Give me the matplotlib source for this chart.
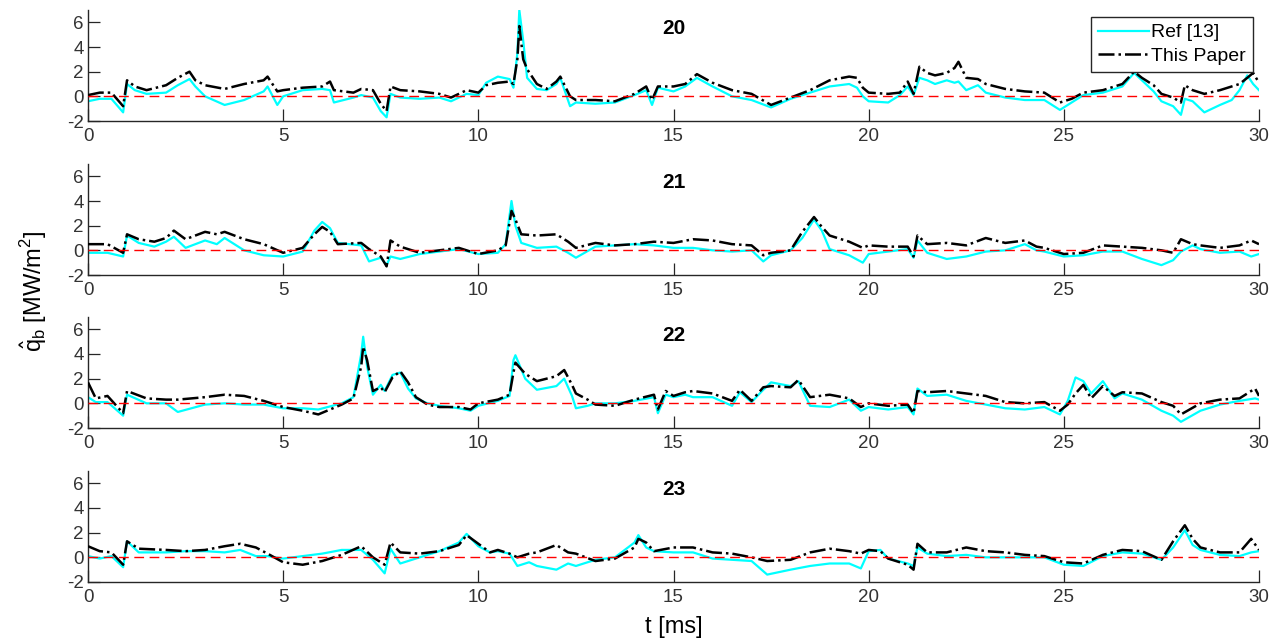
import matplotlib
matplotlib.use("Agg")
import matplotlib.pyplot as plt

plt.rcParams["font.family"] = ["Liberation Sans Narrow", "Liberation Sans", "DejaVu Sans"]
plt.rcParams["axes.unicode_minus"] = False

# ---- data (t in ms, q_b in MW/m^2) ----
t20 = [0, 0.3, 0.6, 0.9, 1.0, 1.2, 1.5, 2.0, 2.3, 2.6,
       2.75, 3.0, 3.5, 4.0, 4.5, 4.6, 4.85, 5.0, 5.5, 6.0,
       6.2, 6.3, 6.8, 7.0, 7.3, 7.5, 7.65, 7.75, 8.0, 8.5,
       9.0, 9.3, 9.7, 10.0, 10.2, 10.5, 10.8, 10.9, 11.0, 11.05,
       11.15, 11.25, 11.5, 11.75, 12.0, 12.1, 12.35, 12.5, 13.0, 13.5,
       14.0, 14.3, 14.45, 14.6, 15.0, 15.3, 15.6, 16.0, 16.5, 17.0,
       17.5, 18.0, 18.5, 19.0, 19.5, 19.7, 19.85, 20.0, 20.5, 20.8,
       21.0, 21.15, 21.3, 21.5, 21.7, 22.0, 22.2, 22.3, 22.5, 22.8,
       23.0, 23.5, 24.0, 24.5, 24.9, 25.2, 25.5, 26.0, 26.5, 26.8,
       27.0, 27.3, 27.5, 27.8, 28.0, 28.1, 28.3, 28.6, 29.0, 29.3,
       29.5, 29.7, 29.85, 30.0]
ref20 = [-0.4, -0.2, -0.2, -1.3, 1.0, 0.5, 0.2, 0.3, 0.9, 1.4,
         0.8, 0.0, -0.7, -0.3, 0.4, 0.8, -0.7, 0.0, 0.5, 0.6,
         0.5, -0.5, -0.1, 0.1, -0.1, -1.2, -1.7, 0.2, -0.1, -0.2,
         -0.1, -0.4, 0.2, 0.1, 1.1, 1.6, 1.4, 0.7, 3.5, 7.0,
         4.5, 1.5, 0.6, 0.5, 1.0, 1.5, -0.8, -0.5, -0.6, -0.5,
         0.1, 0.5, -0.7, 0.7, 0.4, 0.8, 1.5, 0.8, 0.0, -0.3,
         -0.9, -0.2, 0.3, 0.8, 1.0, 0.7, 0.0, -0.4, -0.5, 0.1,
         0.8, 0.1, 1.5, 1.3, 1.0, 1.3, 1.1, 1.2, 0.5, 0.9,
         0.3, -0.1, -0.3, -0.3, -1.1, -0.5, 0.1, 0.3, 0.8, 1.9,
         1.3, 0.4, -0.4, -0.8, -1.5, -0.2, -0.4, -1.3, -0.7, -0.3,
         0.5, 1.7, 1.0, 0.5]
paper20 = [0.1, 0.3, 0.3, -0.8, 1.3, 0.8, 0.5, 0.9, 1.5, 2.0,
           1.3, 0.9, 0.6, 1.0, 1.3, 1.6, 0.4, 0.5, 0.7, 0.8,
           1.2, 0.5, 0.3, 0.6, 0.5, -0.6, -1.2, 0.8, 0.5, 0.4,
           0.2, -0.1, 0.5, 0.3, 0.9, 1.1, 1.2, 1.0, 3.0, 5.7,
           3.0, 2.2, 1.0, 0.6, 1.2, 1.6, 0.0, -0.3, -0.3, -0.4,
           0.2, 0.8, -0.3, 0.8, 0.8, 1.0, 1.8, 1.1, 0.5, 0.2,
           -0.7, -0.1, 0.5, 1.3, 1.6, 1.5, 0.7, 0.3, 0.2, 0.3,
           1.2, 0.2, 2.4, 1.9, 1.7, 1.9, 2.3, 2.8, 1.5, 1.4,
           1.0, 0.6, 0.4, 0.3, -0.5, -0.2, 0.3, 0.5, 1.0, 2.0,
           1.5, 0.9, 0.2, -0.1, -0.5, 0.9, 0.5, 0.2, 0.5, 0.8,
           1.0, 1.5, 1.9, 1.1]

t21 = [0, 0.5, 0.9, 1.0, 1.3, 1.7, 2.0, 2.2, 2.5, 3.0,
       3.3, 3.5, 4.0, 4.5, 5.0, 5.5, 5.8, 6.0, 6.2, 6.4,
       7.0, 7.2, 7.5, 7.65, 7.75, 8.0, 8.5, 9.0, 9.5, 10.0,
       10.5, 10.7, 10.85, 10.95, 11.1, 11.5, 12.0, 12.3, 12.5, 13.0,
       13.5, 14.0, 14.5, 15.0, 15.5, 16.0, 16.5, 17.0, 17.3, 17.5,
       18.0, 18.3, 18.6, 18.8, 19.0, 19.5, 19.85, 20.0, 20.5, 21.0,
       21.15, 21.25, 21.5, 22.0, 22.5, 23.0, 23.5, 24.0, 24.3, 24.5,
       25.0, 25.5, 26.0, 26.5, 27.0, 27.5, 27.8, 28.0, 28.3, 28.5,
       29.0, 29.5, 29.8, 30.0]
ref21 = [-0.2, -0.2, -0.5, 1.2, 0.6, 0.3, 0.7, 1.1, 0.2, 0.8,
         0.5, 1.0, 0.0, -0.4, -0.5, -0.1, 1.6, 2.3, 1.8, 0.6,
         0.4, -0.9, -0.6, -1.2, -0.5, -0.7, -0.3, -0.1, 0.1, -0.3,
         -0.2, 0.5, 4.0, 2.0, 0.6, 0.2, 0.3, -0.2, -0.6, 0.3,
         0.4, 0.5, 0.4, 0.2, 0.2, 0.0, -0.1, 0.0, -0.9, -0.4,
         0.0, 1.0, 2.5, 1.6, 0.1, -0.4, -1.0, -0.3, -0.1, 0.1,
         -0.6, 0.8, -0.2, -0.7, -0.5, -0.1, 0.0, 0.5, 0.0, -0.1,
         -0.5, -0.4, -0.1, -0.1, -0.7, -1.2, -0.8, -0.1, 0.4, 0.1,
         -0.2, -0.1, -0.5, -0.3]
paper21 = [0.5, 0.5, -0.2, 1.3, 0.9, 0.7, 1.0, 1.6, 0.9, 1.5,
           1.3, 1.5, 0.9, 0.5, -0.2, 0.2, 1.3, 1.9, 1.5, 0.5,
           0.6, 0.1, -0.5, -1.3, 0.8, 0.3, -0.2, 0.0, 0.2, -0.3,
           0.0, 0.4, 3.2, 2.5, 1.3, 1.2, 1.3, 0.7, 0.2, 0.6,
           0.4, 0.5, 0.7, 0.6, 0.9, 0.8, 0.5, 0.4, -0.4, -0.2,
           0.0, 1.5, 2.7, 1.9, 1.2, 0.7, 0.2, 0.4, 0.3, 0.3,
           -0.5, 1.2, 0.5, 0.6, 0.4, 1.0, 0.6, 0.8, 0.3, 0.2,
           -0.3, -0.2, 0.4, 0.3, 0.2, 0.0, -0.2, 0.9, 0.5, 0.4,
           0.2, 0.4, 0.8, 0.5]

t22 = [0, 0.2, 0.5, 0.9, 1.0, 1.5, 2.0, 2.3, 3.0, 3.5,
       4.0, 4.5, 5.0, 5.5, 5.9, 6.5, 6.8, 7.0, 7.05, 7.15,
       7.3, 7.5, 7.6, 7.8, 8.0, 8.2, 8.4, 8.7, 9.0, 9.5,
       9.8, 10.0, 10.5, 10.8, 10.9, 10.95, 11.2, 11.5, 12.0, 12.2,
       12.4, 12.5, 12.8, 13.0, 13.5, 14.0, 14.5, 14.6, 14.8, 15.0,
       15.3, 15.5, 16.0, 16.5, 16.7, 17.0, 17.3, 17.5, 18.0, 18.2,
       18.5, 19.0, 19.5, 19.8, 20.0, 20.5, 21.0, 21.15, 21.25, 21.5,
       22.0, 22.5, 23.0, 23.5, 24.0, 24.5, 24.9, 25.1, 25.3, 25.5,
       25.7, 26.0, 26.3, 26.5, 27.0, 27.5, 27.8, 28.0, 28.5, 29.0,
       29.5, 29.9, 30.0]
ref22 = [0.5, 0.1, 0.1, -1.0, 0.7, 0.0, 0.0, -0.7, -0.1, 0.0,
         -0.1, -0.1, -0.4, -0.4, -0.5, 0.0, 0.5, 4.0, 5.4, 3.0,
         0.7, 1.5, 1.0, 2.3, 2.5, 1.2, 0.4, 0.0, -0.2, -0.4,
         -0.6, -0.2, 0.2, 0.6, 3.5, 3.9, 2.0, 1.1, 1.4, 2.0,
         0.6, -0.4, -0.2, 0.0, 0.0, 0.2, 0.5, -0.8, 0.7, 0.5,
         0.7, 0.5, 0.5, -0.2, 0.9, 0.1, 1.1, 1.7, 1.4, 1.8,
         -0.2, -0.3, 0.3, -0.6, -0.3, -0.5, -0.3, -0.9, 1.2, 0.6,
         0.7, 0.2, -0.1, -0.4, -0.5, -0.3, -0.9, 0.2, 2.1, 1.8,
         0.8, 1.8, 0.4, 0.8, 0.3, -0.6, -1.0, -1.5, -0.6, -0.1,
         0.2, 0.4, 0.3]
paper22 = [1.7, 0.4, 0.6, -0.8, 1.0, 0.4, 0.3, 0.3, 0.5, 0.7,
           0.6, 0.2, -0.3, -0.6, -0.9, -0.1, 0.4, 3.0, 4.6, 3.5,
           1.0, 1.3, 0.9, 2.1, 2.6, 1.7, 0.5, -0.1, -0.3, -0.3,
           -0.5, 0.0, 0.3, 0.7, 2.5, 3.3, 2.4, 1.8, 2.2, 2.7,
           1.5, 0.8, 0.3, -0.1, -0.2, 0.3, 0.7, -0.5, 1.0, 0.6,
           0.9, 1.0, 0.8, 0.2, 1.1, 0.2, 1.3, 1.4, 1.3, 1.9,
           0.5, 0.7, 0.4, -0.3, 0.0, -0.2, -0.1, -0.8, 1.0, 0.9,
           1.0, 0.8, 0.6, 0.1, 0.0, 0.1, -0.6, -0.1, 0.8, 1.5,
           0.4, 1.4, 0.6, 0.9, 0.8, 0.1, -0.2, -0.9, 0.0, 0.3,
           0.4, 1.2, 0.6]

t23 = [0, 0.3, 0.6, 0.9, 1.0, 1.3, 2.0, 2.5, 3.0, 3.5,
       3.9, 4.3, 4.6, 5.0, 5.5, 6.0, 6.5, 7.0, 7.3, 7.6,
       7.75, 8.0, 8.5, 9.0, 9.5, 9.7, 10.0, 10.3, 10.5, 10.8,
       11.0, 11.3, 11.5, 12.0, 12.3, 12.5, 13.0, 13.5, 14.0, 14.1,
       14.3, 14.5, 15.0, 15.5, 16.0, 16.5, 17.0, 17.4, 18.0, 18.5,
       19.0, 19.5, 19.8, 20.0, 20.3, 20.5, 21.0, 21.15, 21.25, 21.5,
       22.0, 22.5, 23.0, 23.5, 24.0, 24.5, 25.0, 25.5, 26.0, 26.5,
       27.0, 27.5, 27.8, 28.1, 28.3, 28.5, 29.0, 29.5, 29.8, 30.0]
ref23 = [0.1, -0.1, 0.1, -0.8, 1.3, 0.4, 0.4, 0.5, 0.5, 0.4,
         0.6, 0.1, 0.1, -0.1, 0.1, 0.3, 0.6, 0.6, -0.2, -1.3,
         0.7, -0.5, 0.0, 0.5, 1.2, 1.9, 0.9, 0.4, 0.5, 0.3,
         -0.7, -0.4, -0.7, -1.0, -0.5, -0.7, -0.2, 0.0, 1.2, 1.8,
         0.8, 0.5, 0.4, 0.4, -0.1, -0.2, -0.3, -1.4, -1.0, -0.7,
         -0.5, -0.5, -0.9, 0.5, 0.6, -0.1, -0.5, -0.7, 0.8, 0.3,
         0.1, 0.2, 0.0, 0.0, 0.0, 0.0, -0.6, -0.7, 0.1, 0.4,
         0.3, -0.2, 0.8, 2.2, 1.0, 0.6, 0.2, 0.1, 0.4, 0.5]
paper23 = [0.9, 0.5, 0.4, -0.6, 1.3, 0.7, 0.6, 0.5, 0.6, 0.9,
           1.1, 0.8, 0.3, -0.4, -0.6, -0.3, 0.2, 0.9, 0.0, -0.6,
           1.2, 0.4, 0.3, 0.5, 1.0, 1.8, 1.1, 0.4, 0.6, 0.3,
           0.0, 0.3, 0.4, 1.0, 0.4, 0.3, -0.3, -0.1, 0.8, 1.5,
           1.2, 0.5, 0.8, 0.8, 0.4, 0.3, 0.0, -0.3, -0.2, 0.4,
           0.7, 0.5, 0.3, 0.6, 0.5, -0.1, -0.6, -1.0, 1.1, 0.4,
           0.4, 0.8, 0.5, 0.4, 0.2, 0.1, -0.4, -0.5, 0.2, 0.6,
           0.5, -0.2, 1.3, 2.6, 1.5, 0.8, 0.4, 0.4, 1.5, 0.6]

panels = [
    ("20", t20, ref20, paper20),
    ("21", t21, ref21, paper21),
    ("22", t22, ref22, paper22),
    ("23", t23, ref23, paper23),
]

# ---- layout (pixels -> figure fractions) ----
W, H = 1281, 641
fig = plt.figure(figsize=(W / 100, H / 100), dpi=100)
left = 88 / W
width = (1259 - 88) / W
height = 111 / H
bottoms_px = [121, 275, 428, 582]
axis_col = "#262626"

for (name, t, ref, paper), bpx in zip(panels, bottoms_px):
    ax = fig.add_axes([left, 1 - bpx / H, width, height])
    ax.plot(t, ref, color="#00FFFF", lw=1.6, label="Ref [13]", zorder=2)
    ax.plot(t, paper, color="black", lw=1.8, ls="-.", label="This Paper", zorder=3)
    ax.axhline(0, color="red", lw=1.0, ls=(0, (7, 4)), zorder=4)
    ax.set_xlim(0, 30)
    ax.set_ylim(-2, 7)
    ax.set_xticks([0, 5, 10, 15, 20, 25, 30])
    ax.set_yticks([-2, 0, 2, 4, 6])
    ax.spines["top"].set_visible(False)
    ax.spines["right"].set_visible(False)
    for s in ("left", "bottom"):
        ax.spines[s].set_color(axis_col)
        ax.spines[s].set_linewidth(1.0)
    ax.tick_params(direction="in", length=8.4, width=0.9, colors=axis_col,
                   labelsize=13.5, labelcolor="#333333")
    ax.tick_params(axis="x", pad=5)
    ax.tick_params(axis="y", pad=3)
    ax.text(0.5, 0.83, name, transform=ax.transAxes, ha="center", va="center",
            fontsize=15, fontweight="bold", family=["Liberation Sans", "DejaVu Sans"])
    if name == "20":
        leg = ax.legend(loc="upper right", bbox_to_anchor=(1253 / W, 1 - 17 / H),
                        bbox_transform=fig.transFigure, borderaxespad=0,
                        fontsize=14, frameon=True, fancybox=False, framealpha=1,
                        edgecolor=axis_col, handlelength=2.6, handletextpad=0.15,
                        borderpad=0.35, labelspacing=0.3)
        leg.get_frame().set_linewidth(1.0)

fig.text(0.526, 0.022, "t [ms]", ha="center", va="center", fontsize=17)
fig.text(0.026, 0.545, r"$\hat{\mathregular{q}}_\mathregular{b}$ [MW/m$^\mathregular{2}$]",
         ha="center", va="center", rotation=90, fontsize=17)

fig.savefig("out.png", dpi=100)
